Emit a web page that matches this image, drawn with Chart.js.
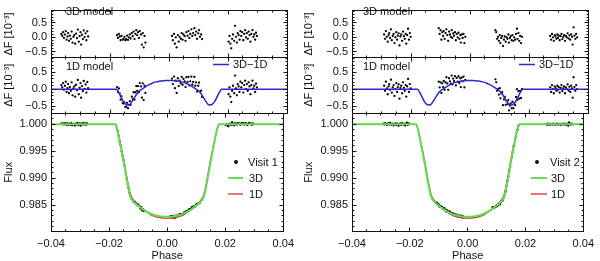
<!DOCTYPE html>
<html>
<head>
<meta charset="utf-8">
<script src="https://cdn.jsdelivr.net/npm/chart.js@4.4.0/dist/chart.umd.min.js"></script>
<style>
  html, body { margin: 0; padding: 0; background: #fff; overflow: hidden; }
  #wrap { position: relative; width: 600px; height: 261px; }
  #wrap canvas { position: absolute; top: 0; }
</style>
</head>
<body>
<div id="wrap"></div>
<script>
// axis ticks and ranges
const xTicks = [-0.04, -0.02, 0.00, 0.02, 0.04];
const resTicks = [-0.5, 0.0, 0.5];
const fluxTicks = [0.985, 0.990, 0.995, 1.000];
const resRange = [-0.70, 0.93];
const fluxRange = [0.9801, 1.0021];

// transit models (3D and 1D limb darkening) and their difference in 1e-3
const modelPhase = [-0.0400, -0.0178, -0.0175, -0.0170, -0.0165, -0.0160, -0.0155, -0.0150, -0.0145, -0.0140,
  -0.0135, -0.0130, -0.0125, -0.0120, -0.0115, -0.0110, -0.0105, -0.0100, -0.0090, -0.0080,
  -0.0070, -0.0060, -0.0050, -0.0040, -0.0030, -0.0020, -0.0010, 0.0000, 0.0010, 0.0020,
  0.0030, 0.0040, 0.0050, 0.0060, 0.0070, 0.0080, 0.0090, 0.0100, 0.0105, 0.0110,
  0.0115, 0.0120, 0.0125, 0.0130, 0.0135, 0.0140, 0.0145, 0.0150, 0.0155, 0.0160,
  0.0165, 0.0170, 0.0175, 0.0178, 0.0400];
const model3D = [1.0000, 1.0000, 0.9996, 0.9986, 0.9973, 0.9959, 0.9945, 0.9931, 0.9916, 0.9901,
  0.9886, 0.9873, 0.9864, 0.9859, 0.9856, 0.9853, 0.9851, 0.9849, 0.9845, 0.9841,
  0.9838, 0.9835, 0.98325, 0.9831, 0.98298, 0.9829, 0.98285, 0.98283, 0.98285, 0.9829,
  0.98298, 0.9831, 0.98325, 0.9835, 0.9838, 0.9841, 0.9845, 0.9849, 0.9851, 0.9853,
  0.9856, 0.9859, 0.9864, 0.9873, 0.9886, 0.9901, 0.9916, 0.9931, 0.9945, 0.9959,
  0.9973, 0.9986, 0.9996, 1.0000, 1.0000];
const model1D = [1.0000, 1.0000, 0.99963, 0.9987, 0.99749, 0.99618, 0.99486, 0.99352, 0.99205, 0.99057,
  0.98906, 0.98772, 0.98676, 0.98619, 0.98582, 0.98545, 0.98519, 0.98495, 0.98449, 0.98403,
  0.98368, 0.98334, 0.98305, 0.98288, 0.98274, 0.98265, 0.9826, 0.98258, 0.9826, 0.98265,
  0.98274, 0.98288, 0.98305, 0.98334, 0.98368, 0.98403, 0.98449, 0.98495, 0.98519, 0.98545,
  0.98582, 0.98619, 0.98676, 0.98772, 0.98906, 0.99057, 0.99205, 0.99352, 0.99486, 0.99618,
  0.99749, 0.9987, 0.99963, 1.0000, 1.0000];
const diff3D1D = [0, 0, -0.03, -0.10, -0.19, -0.28, -0.36, -0.42, -0.45, -0.465,
  -0.46, -0.42, -0.36, -0.29, -0.22, -0.15, -0.09, -0.05, 0.01, 0.07,
  0.12, 0.16, 0.20, 0.22, 0.24, 0.25, 0.255, 0.255, 0.255, 0.25,
  0.24, 0.22, 0.20, 0.16, 0.12, 0.07, 0.01, -0.05, -0.09, -0.15,
  -0.22, -0.29, -0.36, -0.42, -0.46, -0.465, -0.45, -0.42, -0.36, -0.28,
  -0.19, -0.10, -0.03, 0, 0];

// Visit 1 (left panel)
const visit1Phase = [
  -0.0365, -0.0362, -0.0359, -0.0356, -0.0353, -0.0350, -0.0347, -0.0344, -0.0342, -0.0339, -0.0336, -0.0333, -0.0330, -0.0327, -0.0324, -0.0321,
  -0.0318, -0.0315, -0.0312, -0.0309, -0.0306, -0.0303, -0.0300, -0.0298, -0.0295, -0.0292, -0.0289, -0.0286, -0.0283, -0.0280, -0.0277, -0.0274,
  -0.0176, -0.0173, -0.0170, -0.0167, -0.0164, -0.0161, -0.0157, -0.0154, -0.0151, -0.0148, -0.0145, -0.0142, -0.0139, -0.0136, -0.0133, -0.0130,
  -0.0126, -0.0123, -0.0120, -0.0117, -0.0114, -0.0111, -0.0108, -0.0105, -0.0102, -0.0099, -0.0095, -0.0092, -0.0089, -0.0086, -0.0083, -0.0080,
  0.0010, 0.0013, 0.0017, 0.0020, 0.0023, 0.0026, 0.0030, 0.0033, 0.0036, 0.0040, 0.0043, 0.0046, 0.0049, 0.0053, 0.0056, 0.0059,
  0.0063, 0.0066, 0.0069, 0.0072, 0.0076, 0.0079, 0.0082, 0.0086, 0.0089, 0.0092, 0.0095, 0.0099, 0.0102, 0.0105, 0.0109, 0.0112,
  0.0202, 0.0205, 0.0208, 0.0211, 0.0214, 0.0217, 0.0221, 0.0224, 0.0227, 0.0230, 0.0233, 0.0236, 0.0239, 0.0242, 0.0245, 0.0248,
  0.0252, 0.0255, 0.0258, 0.0261, 0.0264, 0.0267, 0.0270, 0.0273, 0.0276, 0.0279, 0.0283, 0.0286, 0.0289, 0.0292, 0.0295, 0.0298];
const visit1Res3D = [
  0.12, 0.05, 0.18, -0.02, 0.10, 0.22, -0.08, 0.03, 0.15, -0.12, 0.06, -0.05, 0.20, -0.18, 0.02, 0.08,
  -0.22, 0.13, -0.03, 0.27, -0.15, 0.04, 0.18, -0.25, 0.09, -0.06, 0.24, 0.01, 0.14, -0.10, 0.21, 0.03,
  0.08, -0.02, 0.12, 0.03, -0.10, 0.05, -0.08, -0.05, 0.02, -0.10, -0.06, 0.06, -0.09, 0.00, 0.10, -0.04,
  0.15, 0.04, 0.20, -0.06, 0.12, 0.25, 0.08, 0.18, -0.02, 0.22, 0.10, -0.25, 0.15, -0.35, 0.05, -0.18,
  0.05, -0.10, 0.12, -0.22, 0.00, -0.35, 0.08, -0.15, 0.02, -0.05, 0.15, -0.08, 0.10, 0.04, -0.12, 0.18,
  0.06, 0.22, -0.02, 0.12, 0.28, 0.05, 0.15, 0.32, 0.08, 0.20, -0.05, 0.14, 0.25, 0.02, 0.10, -0.06,
  -0.15, 0.05, -0.22, -0.38, -0.05, 0.10, -0.12, 0.40, 0.02, -0.18, 0.15, 0.08, -0.08, 0.22, 0.05, 0.18,
  -0.10, 0.12, 0.25, 0.00, 0.15, -0.05, 0.20, 0.08, -0.15, 0.12, 0.25, 0.02, 0.10, -0.08, 0.16, 0.05];
const visit1Res1D = [
  0.12, 0.05, 0.18, -0.02, 0.10, 0.22, -0.08, 0.03, 0.15, -0.12, 0.06, -0.05, 0.20, -0.18, 0.02, 0.08,
  -0.22, 0.13, -0.03, 0.27, -0.15, 0.04, 0.18, -0.25, 0.09, -0.06, 0.24, 0.01, 0.14, -0.10, 0.21, 0.03,
  0.06, -0.08, 0.02, -0.13, -0.31, -0.21, -0.41, -0.42, -0.39, -0.53, -0.51, -0.40, -0.56, -0.46, -0.35, -0.46,
  -0.22, -0.29, -0.09, -0.31, -0.09, 0.09, -0.05, 0.09, -0.09, 0.18, 0.08, -0.25, 0.17, -0.32, 0.10, -0.11,
  0.31, 0.15, 0.37, 0.03, 0.25, -0.11, 0.32, 0.09, 0.25, 0.17, 0.36, 0.13, 0.30, 0.23, 0.06, 0.35,
  0.21, 0.36, 0.11, 0.23, 0.37, 0.13, 0.21, 0.36, 0.10, 0.20, -0.07, 0.10, 0.19, -0.07, -0.04, -0.23,
  -0.15, 0.05, -0.22, -0.38, -0.05, 0.10, -0.12, 0.40, 0.02, -0.18, 0.15, 0.08, -0.08, 0.22, 0.05, 0.18,
  -0.10, 0.12, 0.25, 0.00, 0.15, -0.05, 0.20, 0.08, -0.15, 0.12, 0.25, 0.02, 0.10, -0.08, 0.16, 0.05];
const visit1Flux = [
  1.00012, 1.00005, 1.00018, 0.99998, 1.00010, 1.00022, 0.99992, 1.00003, 1.00015, 0.99988, 1.00006, 0.99995, 1.00020, 0.99982, 1.00002, 1.00008,
  0.99978, 1.00013, 0.99997, 1.00027, 0.99985, 1.00004, 1.00018, 0.99975, 1.00009, 0.99994, 1.00024, 1.00001, 1.00014, 0.99990, 1.00021, 1.00003,
  0.99981, 0.99918, 0.99872, 0.99785, 0.99692, 0.99623, 0.99498, 0.99417, 0.99340, 0.99240, 0.99154, 0.99076, 0.98971, 0.98890, 0.98818, 0.98726,
  0.98673, 0.98624, 0.98610, 0.98566, 0.98566, 0.98561, 0.98530, 0.98528, 0.98496, 0.98508, 0.98480, 0.98433, 0.98461, 0.98399, 0.98427, 0.98392,
  0.98290, 0.98277, 0.98301, 0.98268, 0.98292, 0.98260, 0.98306, 0.98287, 0.98307, 0.98305, 0.98330, 0.98311, 0.98334, 0.98337, 0.98328, 0.98366,
  0.98365, 0.98390, 0.98375, 0.98398, 0.98426, 0.98412, 0.98433, 0.98466, 0.98454, 0.98478, 0.98465, 0.98500, 0.98523, 0.98512, 0.98536, 0.98536,
  0.99985, 1.00005, 0.99978, 0.99962, 0.99995, 1.00010, 0.99988, 1.00040, 1.00002, 0.99982, 1.00015, 1.00008, 0.99992, 1.00022, 1.00005, 1.00018,
  0.99990, 1.00012, 1.00025, 1.00000, 1.00015, 0.99995, 1.00020, 1.00008, 0.99985, 1.00012, 1.00025, 1.00002, 1.00010, 0.99992, 1.00016, 1.00005];

// Visit 2 (right panel)
const visit2Phase = [
  -0.0291, -0.0288, -0.0285, -0.0282, -0.0279, -0.0276, -0.0274, -0.0271, -0.0268, -0.0265, -0.0262, -0.0259, -0.0256, -0.0253, -0.0250, -0.0247,
  -0.0245, -0.0242, -0.0239, -0.0236, -0.0233, -0.0230, -0.0227, -0.0224, -0.0221, -0.0218, -0.0216, -0.0213, -0.0210, -0.0207, -0.0204, -0.0201,
  -0.0106, -0.0103, -0.0100, -0.0097, -0.0094, -0.0091, -0.0089, -0.0086, -0.0083, -0.0080, -0.0077, -0.0074, -0.0071, -0.0068, -0.0065, -0.0062,
  -0.0060, -0.0057, -0.0054, -0.0051, -0.0048, -0.0045, -0.0042, -0.0039, -0.0036, -0.0033, -0.0031, -0.0028, -0.0025, -0.0022, -0.0019, -0.0016,
  0.0086, 0.0089, 0.0092, 0.0095, 0.0098, 0.0101, 0.0103, 0.0106, 0.0109, 0.0112, 0.0115, 0.0118, 0.0121, 0.0124, 0.0127, 0.0130,
  0.0132, 0.0135, 0.0138, 0.0141, 0.0144, 0.0147, 0.0150, 0.0153, 0.0156, 0.0159, 0.0161, 0.0164, 0.0167, 0.0170, 0.0173, 0.0176,
  0.0272, 0.0275, 0.0278, 0.0281, 0.0284, 0.0287, 0.0290, 0.0293, 0.0296, 0.0298, 0.0301, 0.0304, 0.0307, 0.0310, 0.0313, 0.0316,
  0.0319, 0.0322, 0.0325, 0.0328, 0.0331, 0.0334, 0.0337, 0.0340, 0.0343, 0.0346, 0.0348, 0.0351, 0.0354, 0.0357, 0.0360, 0.0363];
const visit2Res3D = [
  0.10, -0.05, 0.22, 0.02, -0.15, 0.08, 0.15, -0.02, 0.28, -0.10, 0.05, 0.12, -0.20, 0.00, 0.18, -0.08,
  0.06, 0.14, -0.28, 0.03, 0.10, -0.12, 0.20, 0.04, -0.05, 0.12, -0.22, 0.08, 0.30, -0.08, 0.15, 0.02,
  0.32, 0.12, 0.25, -0.08, 0.18, 0.05, 0.22, -0.05, 0.15, 0.28, 0.08, -0.12, 0.20, 0.10, 0.02, 0.25,
  -0.02, 0.14, 0.06, 0.18, -0.10, 0.12, 0.00, 0.16, -0.05, 0.08, -0.18, 0.10, -0.02, 0.12, -0.20, 0.02,
  0.25, 0.18, -0.05, 0.02, -0.12, 0.08, -0.20, -0.02, 0.05, -0.30, -0.08, 0.03, -0.15, 0.00, -0.05, 0.10,
  -0.18, -0.02, 0.04, -0.10, 0.08, -0.12, 0.00, -0.08, 0.12, 0.30, -0.05, 0.15, -0.12, 0.05, -0.20, 0.02,
  0.05, -0.08, 0.12, 0.00, -0.12, 0.08, 0.03, -0.05, 0.10, -0.02, 0.06, -0.10, 0.04, 0.12, -0.06, 0.02,
  0.08, -0.12, 0.05, 0.00, 0.14, -0.04, 0.07, -0.08, 0.10, 0.02, -0.25, 0.35, 0.06, -0.05, 0.12, 0.00];
const visit2Res1D = [
  0.10, -0.05, 0.22, 0.02, -0.15, 0.08, 0.15, -0.02, 0.28, -0.10, 0.05, 0.12, -0.20, 0.00, 0.18, -0.08,
  0.06, 0.14, -0.28, 0.03, 0.10, -0.12, 0.20, 0.04, -0.05, 0.12, -0.22, 0.08, 0.30, -0.08, 0.15, 0.02,
  0.22, 0.05, 0.20, -0.11, 0.17, 0.06, 0.24, -0.02, 0.20, 0.35, 0.17, -0.02, 0.32, 0.23, 0.16, 0.40,
  0.14, 0.31, 0.24, 0.38, 0.11, 0.33, 0.22, 0.38, 0.18, 0.32, 0.06, 0.34, 0.23, 0.37, 0.05, 0.27,
  0.29, 0.20, -0.05, 0.00, -0.16, 0.03, -0.27, -0.12, -0.09, -0.47, -0.30, -0.23, -0.46, -0.35, -0.44, -0.32,
  -0.62, -0.48, -0.42, -0.56, -0.37, -0.56, -0.42, -0.47, -0.23, 0.00, -0.31, -0.06, -0.28, -0.05, -0.26, 0.00,
  0.05, -0.08, 0.12, 0.00, -0.12, 0.08, 0.03, -0.05, 0.10, -0.02, 0.06, -0.10, 0.04, 0.12, -0.06, 0.02,
  0.08, -0.12, 0.05, 0.00, 0.14, -0.04, 0.07, -0.08, 0.10, 0.02, -0.25, 0.35, 0.06, -0.05, 0.12, 0.00];
const visit2Flux = [
  1.00010, 0.99995, 1.00022, 1.00002, 0.99985, 1.00008, 1.00015, 0.99998, 1.00028, 0.99990, 1.00005, 1.00012, 0.99980, 1.00000, 1.00018, 0.99992,
  1.00006, 1.00014, 0.99972, 1.00003, 1.00010, 0.99988, 1.00020, 1.00004, 0.99995, 1.00012, 0.99978, 1.00008, 1.00030, 0.99992, 1.00015, 1.00002,
  0.98546, 0.98514, 0.98515, 0.98470, 0.98484, 0.98459, 0.98468, 0.98429, 0.98437, 0.98438, 0.98409, 0.98380, 0.98403, 0.98384, 0.98367, 0.98381,
  0.98348, 0.98357, 0.98341, 0.98346, 0.98312, 0.98330, 0.98313, 0.98325, 0.98300, 0.98310, 0.98281, 0.98306, 0.98292, 0.98304, 0.98270, 0.98290,
  0.98459, 0.98464, 0.98453, 0.98472, 0.98470, 0.98502, 0.98482, 0.98512, 0.98531, 0.98512, 0.98552, 0.98581, 0.98585, 0.98630, 0.98671, 0.98740,
  0.98764, 0.98858, 0.98954, 0.99030, 0.99138, 0.99208, 0.99310, 0.99386, 0.99490, 0.99592, 0.99613, 0.99717, 0.99770, 0.99865, 0.99900, 0.99975,
  1.00005, 0.99992, 1.00012, 1.00000, 0.99988, 1.00008, 1.00003, 0.99995, 1.00010, 0.99998, 1.00006, 0.99990, 1.00004, 1.00012, 0.99994, 1.00002,
  1.00008, 0.99988, 1.00005, 1.00000, 1.00014, 0.99996, 1.00007, 0.99992, 1.00010, 1.00002, 0.99975, 1.00035, 1.00006, 0.99995, 1.00012, 1.00000];

const FONT = '"Liberation Sans", Arial, Helvetica, sans-serif';
const INK = '#111';
const BLUE = '#2a2ad4';
const GREEN = '#60e050';
const RED = '#e02a2a';

const pts = (xs, ys) => xs.map((x, i) => ({ x, y: ys[i] }));
const fmt = d => v => v.toFixed(d).replace('-', '\u2212');

// frame with inward ticks on all four sides, plus in-plot labels and legends
const decorPlugin = {
  id: 'decor',
  afterDatasetsDraw(chart, args, o) {
    const { ctx, chartArea: a, scales } = chart;
    const snap = v => Math.floor(v) + 0.5;
    const L = snap(a.left), R = snap(a.right), T = snap(a.top), B = snap(a.bottom);
    ctx.save();
    ctx.strokeStyle = INK;
    ctx.lineWidth = 1;
    ctx.beginPath();
    const xs = scales.x, ys = scales.y;
    const xStep = 0.005;
    for (let k = Math.ceil(xs.min / xStep - 1e-6); k <= Math.floor(xs.max / xStep + 1e-6); k++) {
      const v = k * xStep;
      const major = xTicks.some(t => Math.abs(t - v) < 1e-9);
      const len = major ? 4 : 2;
      const px = snap(xs.getPixelForValue(v));
      ctx.moveTo(px, B); ctx.lineTo(px, B - len);
      ctx.moveTo(px, T); ctx.lineTo(px, T + len);
    }
    for (let k = Math.ceil(ys.min / o.yMinor - 1e-6); k <= Math.floor(ys.max / o.yMinor + 1e-6); k++) {
      const v = k * o.yMinor;
      const major = o.yMajor.some(t => Math.abs(t - v) < 1e-9);
      const len = major ? 4 : 2;
      const py = snap(ys.getPixelForValue(v));
      ctx.moveTo(L, py); ctx.lineTo(L + len, py);
      ctx.moveTo(R, py); ctx.lineTo(R - len, py);
    }
    ctx.stroke();
    ctx.strokeRect(L, T, R - L, B - T);

    (o.lines || []).forEach(l => {
      ctx.beginPath();
      ctx.strokeStyle = l.color;
      ctx.lineWidth = l.w;
      ctx.moveTo(l.x1, l.y); ctx.lineTo(l.x2, l.y);
      ctx.stroke();
    });
    (o.dots || []).forEach(d => {
      ctx.beginPath();
      ctx.fillStyle = INK;
      ctx.arc(d.x, d.y, d.r, 0, Math.PI * 2);
      ctx.fill();
    });
    ctx.fillStyle = INK;
    ctx.font = '11px ' + FONT;
    ctx.textBaseline = 'middle';
    ctx.textAlign = 'left';
    (o.texts || []).forEach(t => ctx.fillText(t.t, t.x, t.y));
    ctx.restore();
  }
};

const wrap = document.getElementById('wrap');

function makeChart(p, top, bottom, yCfg, datasets, decor, showX) {
  const cv = document.createElement('canvas');
  cv.width = 300; cv.height = 261;
  cv.style.left = p.ox + 'px';
  cv.style.width = '300px'; cv.style.height = '261px';
  wrap.appendChild(cv);
  return new Chart(cv.getContext('2d'), {
    type: 'scatter',
    data: { datasets },
    options: {
      responsive: false,
      animation: false,
      devicePixelRatio: 1,
      layout: { padding: { left: 0, right: p.rp, top, bottom } },
      plugins: { legend: { display: false }, tooltip: { enabled: false }, decor },
      scales: {
        x: {
          type: 'linear', min: -0.04, max: 0.04, display: showX,
          afterBuildTicks: s => { s.ticks = xTicks.map(v => ({ value: v })); },
          afterFit: s => { s.height = showX ? 29.5 : 0; },
          grid: { display: false, drawTicks: false },
          border: { display: false },
          ticks: { callback: fmt(2), font: { family: FONT, size: 11 }, color: INK, padding: 6, maxRotation: 0, autoSkip: false },
          title: { display: true, text: 'Phase', font: { family: FONT, size: 11 }, color: INK, padding: { top: 0, bottom: -1.5 } }
        },
        y: {
          type: 'linear', position: 'left', min: yCfg.range[0], max: yCfg.range[1],
          afterBuildTicks: s => { s.ticks = yCfg.ticks.map(v => ({ value: v })); },
          afterFit: s => { s.width = p.yw; },
          grid: { display: false, drawTicks: false },
          border: { display: false },
          ticks: { callback: fmt(yCfg.digits), font: { family: FONT, size: 11 }, color: INK, padding: 4 },
          title: { display: true, text: yCfg.title, font: { family: FONT, size: 11 }, color: INK, padding: { top: 2.5, bottom: 0 } }
        }
      }
    },
    plugins: [decorPlugin]
  });
}

const panels = [
  { ox: 0, yw: 51, rp: 13, phase: visit1Phase, r3: visit1Res3D, r1: visit1Res1D, flux: visit1Flux, visit: 'Visit 1',
    labX: 66, diffLeg: [213, 229, 233], dotX: 236, legLine: [228, 243], legTextX: 249 },
  { ox: 300, yw: 52, rp: 12, phase: visit2Phase, r3: visit2Res3D, r1: visit2Res1D, flux: visit2Flux, visit: 'Visit 2',
    labX: 63, diffLeg: [219, 235, 239], dotX: 237, legLine: [231, 247], legTextX: 251 }
];

const dots = { pointRadius: 1.15, pointBackgroundColor: '#000', pointBorderWidth: 0, showLine: false };
const curve = { showLine: true, pointRadius: 0, cubicInterpolationMode: 'monotone' };
const resAxis = { range: resRange, ticks: resTicks, digits: 1, title: '\u0394F [10\u207B\u00B3]' };

panels.forEach(p => {
  // 3D model residuals
  makeChart(p, 3, 203.5, resAxis,
    [{ ...dots, data: pts(p.phase, p.r3) }],
    { yMajor: resTicks, yMinor: 0.1, texts: [{ t: '3D model', x: p.labX, y: 11.5 }] }, false);

  // 1D model residuals with the 3D-1D difference
  makeChart(p, 57.5, 148, resAxis,
    [{ ...curve, data: pts(modelPhase, diff3D1D), borderColor: BLUE, borderWidth: 1.5, order: 0 },
     { ...dots, data: pts(p.phase, p.r1), order: 1 }],
    { yMajor: resTicks, yMinor: 0.1,
      texts: [{ t: '1D model', x: p.labX, y: 66.5 }, { t: '3D\u22121D', x: p.diffLeg[2], y: 65 }],
      lines: [{ x1: p.diffLeg[0], x2: p.diffLeg[1], y: 64.5, color: BLUE, w: 1.5 }] }, false);

  // flux with both models
  makeChart(p, 113, 0, { range: fluxRange, ticks: fluxTicks, digits: 3, title: 'Flux' },
    [{ ...curve, data: pts(modelPhase, model3D), borderColor: GREEN, borderWidth: 2, order: 0 },
     { ...curve, data: pts(modelPhase, model1D), borderColor: RED, borderWidth: 1.3, order: 1 },
     { ...dots, data: pts(p.phase, p.flux), order: 2 }],
    { yMajor: fluxTicks, yMinor: 0.001,
      texts: [{ t: p.visit, x: p.legTextX - 1, y: 162.5 }, { t: '3D', x: p.legTextX, y: 178.5 }, { t: '1D', x: p.legTextX, y: 194.5 }],
      dots: [{ x: p.dotX, y: 162, r: 2 }],
      lines: [{ x1: p.legLine[0], x2: p.legLine[1], y: 178, color: GREEN, w: 2 },
              { x1: p.legLine[0], x2: p.legLine[1], y: 194, color: RED, w: 1.3 }] }, true);
});
</script>
</body>
</html>
